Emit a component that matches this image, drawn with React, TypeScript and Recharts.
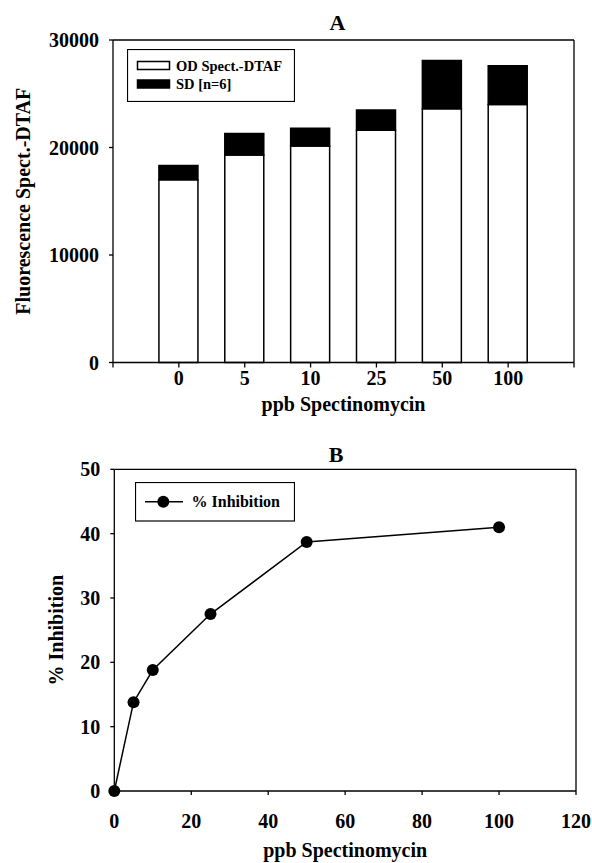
import React from "react";
import {
  BarChart,
  Bar,
  LineChart,
  Line,
  XAxis,
  YAxis,
  Legend,
  Label,
  ReferenceLine,
} from "recharts";

// panel A
const doses = ["0", "5", "10", "25", "50", "100"];
const odMean = [17000, 19300, 20150, 21600, 23600, 24000];
const sdValue = [1330, 2000, 1650, 1900, 4500, 3600];
const yTicksA = [0, 10000, 20000, 30000];

// panel B
const doseValues = [0, 5, 10, 25, 50, 100];
const inhibition = [0, 13.8, 18.8, 27.5, 38.7, 41.0];
const xTicksB = [0, 20, 40, 60, 80, 100, 120];
const yTicksB = [0, 10, 20, 30, 40, 50];

const barData = doses.map((d, i) => ({ pos: i + 1, od: odMean[i], sd: sdValue[i] }));
const lineData = doseValues.map((d, i) => ({ dose: d, inh: inhibition[i] }));

const FONT = "'Liberation Serif', 'DejaVu Serif', serif";
const tickStyle = { fontFamily: FONT, fontWeight: 700, fontSize: 20, fill: "#000" };
const axisLine = { stroke: "#000", strokeWidth: 1.3 };

function title(text: string, dy: number, dx: number) {
  return ({ viewBox }: any) => (
    <text
      x={viewBox.x + viewBox.width / 2 + dx}
      y={viewBox.y + dy}
      textAnchor="middle"
      style={{ fontFamily: FONT, fontWeight: 700, fontSize: 22 }}
    >
      {text}
    </text>
  );
}

function xTitle(text: string, dy: number) {
  return ({ viewBox }: any) => (
    <text
      x={viewBox.x + viewBox.width / 2}
      y={viewBox.y + dy}
      textAnchor="middle"
      style={{ fontFamily: FONT, fontWeight: 700, fontSize: 20 }}
    >
      {text}
    </text>
  );
}

function yTitle(text: string, dx: number) {
  return ({ viewBox }: any) => {
    const x = viewBox.x + dx;
    const y = viewBox.y + viewBox.height / 2;
    return (
      <text
        x={x}
        y={y}
        transform={`rotate(-90 ${x} ${y})`}
        textAnchor="middle"
        style={{ fontFamily: FONT, fontWeight: 700, fontSize: 20 }}
      >
        {text}
      </text>
    );
  };
}

function BarLegend({ payload }: any) {
  return (
    <svg width={168} height={53} style={{ display: "block" }}>
      <rect x={0.5} y={0.5} width={167} height={52} fill="#fff" stroke="#000" strokeWidth={1.2} />
      {(payload || []).map((entry: any, i: number) => (
        <g key={entry.value}>
          <rect
            x={10.5}
            y={12.5 + i * 18.5}
            width={32}
            height={8}
            fill={i === 0 ? "#fff" : "#000"}
            stroke="#000"
            strokeWidth={1.5}
          />
          <text
            x={49}
            y={21.5 + i * 18.5}
            style={{ fontFamily: FONT, fontWeight: 700, fontSize: 14.5 }}
          >
            {entry.value}
          </text>
        </g>
      ))}
    </svg>
  );
}

function LineLegend({ payload }: any) {
  const entry = (payload || [])[0];
  return (
    <svg width={160} height={40} style={{ display: "block" }}>
      <rect x={0.5} y={0.5} width={159} height={38.5} fill="#fff" stroke="#000" strokeWidth={1.2} />
      <line x1={10} x2={48} y1={19.7} y2={19.7} stroke="#000" strokeWidth={1.5} />
      <circle cx={28.3} cy={19.7} r={6} fill="#000" />
      <text x={56.5} y={25} style={{ fontFamily: FONT, fontWeight: 700, fontSize: 16 }}>
        {entry ? entry.value : "% Inhibition"}
      </text>
    </svg>
  );
}

export default function App() {
  return (
    <div style={{ position: "absolute", left: 0, top: 0, width: 592, height: 863, background: "#fff" }}>
      <div style={{ position: "absolute", left: 0, top: 0 }}>
        <BarChart width={592} height={420} data={barData} margin={{ top: 40, right: 18, bottom: 27.5, left: 13 }}>
          <XAxis
            dataKey="pos"
            type="number"
            domain={[0, 7]}
            ticks={[0, 1, 2, 3, 4, 5, 6, 7]}
            interval={0}
            tickFormatter={(v: number) => doses[v - 1] ?? ""}
            tick={tickStyle}
            tickSize={5}
            tickMargin={3}
            tickLine={axisLine}
            axisLine={axisLine}
            height={30}
          >
            <Label content={xTitle("ppb Spectinomycin", 48)} />
          </XAxis>
          <YAxis
            domain={[0, 30000]}
            ticks={yTicksA}
            interval={0}
            tick={tickStyle}
            tickSize={4}
            tickMargin={10}
            tickLine={axisLine}
            axisLine={axisLine}
            width={100}
          >
            <Label content={yTitle("Fluorescence Spect.-DTAF", 17)} />
          </YAxis>
          <ReferenceLine y={30000} stroke="#000" strokeWidth={1.3} label={title("A", -10, -6)} />
          <ReferenceLine x={7} stroke="#000" strokeWidth={1.3} />
          <Legend
            layout="vertical"
            align="center"
            verticalAlign="middle"
            content={<BarLegend />}
            wrapperStyle={{ left: 127, top: 49, width: 168, height: 53 }}
          />
          <Bar dataKey="od" name="OD Spect.-DTAF" stackId="a" barSize={39} fill="#fff" stroke="#000" strokeWidth={1.5} isAnimationActive={false} />
          <Bar dataKey="sd" name="SD [n=6]" stackId="a" barSize={39} fill="#000" stroke="#000" strokeWidth={1.5} isAnimationActive={false} />
        </BarChart>
      </div>
      <div style={{ position: "absolute", left: 0, top: 420 }}>
        <LineChart width={592} height={443} data={lineData} margin={{ top: 49.3, right: 16, bottom: 42, left: 14.3 }}>
          <XAxis
            dataKey="dose"
            type="number"
            domain={[0, 120]}
            ticks={xTicksB}
            interval={0}
            tick={tickStyle}
            tickSize={4}
            tickMargin={19}
            tickLine={axisLine}
            axisLine={axisLine}
            height={30}
          >
            <Label content={xTitle("ppb Spectinomycin", 66)} />
          </XAxis>
          <YAxis
            domain={[0, 50]}
            ticks={yTicksB}
            interval={0}
            tick={tickStyle}
            tickSize={4}
            tickMargin={10}
            tickLine={axisLine}
            axisLine={axisLine}
            width={100}
          >
            <Label content={yTitle("% Inhibition", 49)} />
          </YAxis>
          <ReferenceLine y={50} stroke="#000" strokeWidth={1.3} label={title("B", -7.6, -9)} />
          <ReferenceLine x={120} stroke="#000" strokeWidth={1.3} />
          <Legend
            layout="vertical"
            align="center"
            verticalAlign="middle"
            content={<LineLegend />}
            wrapperStyle={{ left: 135, top: 62, width: 160, height: 40 }}
          />
          <Line
            dataKey="inh"
            name="% Inhibition"
            stroke="#000"
            strokeWidth={1.5}
            dot={{ r: 6, fill: "#000", stroke: "#000", strokeWidth: 0 }}
            activeDot={false}
            isAnimationActive={false}
          />
        </LineChart>
      </div>
    </div>
  );
}
